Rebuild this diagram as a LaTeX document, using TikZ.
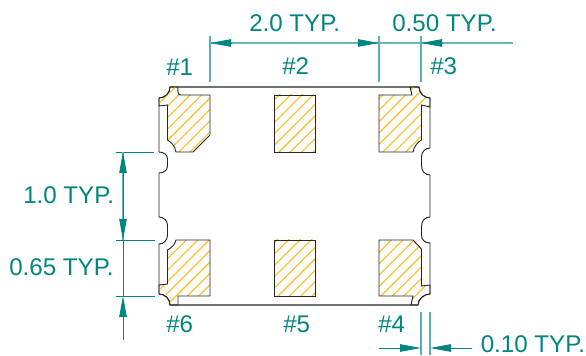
\documentclass[tikz,border=0pt]{standalone}
\usepackage{fontspec}
\setmainfont{Liberation Sans}
\usetikzlibrary{arrows.meta}
\definecolor{dimteal}{HTML}{00857F}
\definecolor{hatchorange}{HTML}{FBBC1E}
\tikzset{
  outline/.style={draw=black!85,line width=0.7pt},
  edgeline/.style={draw=black!55,line width=1.1pt},
  hatchline/.style={draw=hatchorange,line width=0.8pt},
  extline/.style={draw=dimteal!65,line width=0.9pt},
  thinline/.style={draw=dimteal,line width=0.7pt},
  dimline/.style={draw=dimteal!60,line width=0.9pt},
  headline/.style={draw=dimteal,line width=0.7pt,-{Triangle[length=15.75pt,width=5.6pt,fill=dimteal]}},
  dimlabel/.style={anchor=base west,inner sep=0pt,text=dimteal,font=\fontsize{18.1}{20}\selectfont},
}
% Hatched pad: first hatch line x+y, then the outline
\newcommand{\hatchpad}[2]{
  \begin{scope}
    \clip #2;
    \foreach \k in {0,...,12}
      \draw[hatchline] ({#1+11.4*\k-70},70) -- ({#1+11.4*\k-320},320);
  \end{scope}
  \draw[outline] #2;
}
\begin{document}
\begin{tikzpicture}[x=0.75pt,y=-0.75pt]
\useasboundingbox (0,0) rectangle (586,356);
% Draw body with corner cuts and side notches
\draw[outline] (170,87) -- (419,87)
  .. controls (419,93) and (424,98) .. (430,98) -- (430,148)
  .. controls (425,148) and (421.5,152) .. (421.5,157) -- (421.5,166)
  .. controls (421.5,171) and (425,175) .. (430,175) -- (430,217)
  .. controls (425,217) and (421.5,221) .. (421.5,226) -- (421.5,235)
  .. controls (421.5,240) and (425,243) .. (430,243) -- (430,294)
  .. controls (424,294) and (418,299) .. (418,305) -- (170,305)
  .. controls (170,299) and (165,294) .. (159,294) -- (159,244)
  .. controls (164,244) and (167.5,240) .. (167.5,235) -- (167.5,225)
  .. controls (167.5,221) and (164,217) .. (159,217) -- (159,173)
  .. controls (164,173) and (167.5,170) .. (167.5,166) -- (167.5,159)
  .. controls (167.5,155) and (164,152) .. (159,152) -- (159,98)
  .. controls (165,98) and (170,93) .. (170,87) -- cycle;
\draw[edgeline] (170,87) -- (419,87);
\draw[edgeline] (170,305) -- (418,305);
% Draw corner pads
\hatchpad{251}{(178,87) .. controls (178,91) and (177,95) .. (181,95) -- (210,95) -- (210,135) -- (193,152) -- (176,152)
  .. controls (175,146) and (171,142) .. (167.5,140) -- (167.5,105) -- (159,106) -- (159,98)
  .. controls (165,98) and (170,93) .. (170,87) -- cycle}
\hatchpad{455}{(410,87) -- (412,95) -- (379,95) -- (379,152) -- (413,152)
  .. controls (414,146) and (418,142) .. (421.5,140) -- (421.5,105) -- (430,107) -- (430,98)
  .. controls (424,98) and (419,93) .. (419,87) -- cycle}
\hatchpad{415}{(176,240) .. controls (175,245) and (171,248) .. (167.5,250) -- (167.5,284) -- (159,285) -- (159,294)
  .. controls (165,294) and (170,299) .. (170,305) -- (178,305) -- (178,296) -- (210,296) -- (210,240) -- cycle}
\hatchpad{620}{(379,240) -- (413,240) -- (421.5,249) -- (421.5,286) -- (430,285) -- (430,294)
  .. controls (424,294) and (418,299) .. (418,305) -- (411,305) -- (413,296) -- (379,296) -- cycle}
% Draw middle pads
\hatchpad{374}{(274,95) rectangle (315,152)}
\hatchpad{517}{(274,240) rectangle (315,296)}
% Draw top dimension
\coordinate (topA) at (210,43);
\coordinate (topB) at (379,43);
\coordinate (topC) at (421,43);
\coordinate (topEnd) at (513,43);
\coordinate (topAin) at (231,43);
\coordinate (topBin) at (358,43);
\draw[extline] (210,36) -- (210,82);
\draw[extline] (379,36) -- (379,82);
\draw[extline] (421,36) -- (421,82);
\draw[dimline] (topA) -- (topEnd);
\draw[headline] (topAin) -- (topA);
\draw[headline] (topBin) -- (topB);
\draw[headline] (443,43) -- (topC);
% Draw left dimension
\coordinate (leftA) at (123,152);
\coordinate (leftB) at (123,240);
\coordinate (leftC) at (123,296);
\coordinate (leftEnd) at (123,340);
\draw[thinline] (116,152) -- (154,152);
\draw[thinline] (116,240) -- (155,240);
\draw[thinline] (116,296) -- (155,296);
\draw[dimline] (leftA) -- (leftB);
\draw[thinline] (leftB) -- (leftC);
\draw[headline] (123,196) -- (leftA);
\draw[headline] (123,196) -- (leftB);
\draw[headline] (leftEnd) -- (leftC);
% Draw bottom dimension
\coordinate (botA) at (421,348);
\coordinate (botB) at (430,348);
\draw[extline] (421,312) -- (421,355);
\draw[extline] (430,312) -- (430,355);
\draw[headline] (379,348) -- (botA);
\draw[headline] (472,348) -- (botB);
% Labels
\node[dimlabel] (dimTwo) at (249,31.5) {2.0 TYP.};
\node[dimlabel] (dimFifty) at (392,31.5) {0.50 TYP.};
\node[dimlabel] (dimOne) at (23,204) {1.0 TYP.};
\node[dimlabel] (dimSixFive) at (9,276) {0.65 TYP.};
\node[dimlabel] (dimTen) at (480.5,353) {0.10 TYP.};
\node[dimlabel] (pinOne) at (166,76) {\#1};
\node[dimlabel] (pinTwo) at (282,75) {\#2};
\node[dimlabel] (pinThree) at (430,75) {\#3};
\node[dimlabel] (pinFour) at (378,333) {\#4};
\node[dimlabel] (pinFive) at (283,333) {\#5};
\node[dimlabel] (pinSix) at (166,333) {\#6};
\end{tikzpicture}
\end{document}
